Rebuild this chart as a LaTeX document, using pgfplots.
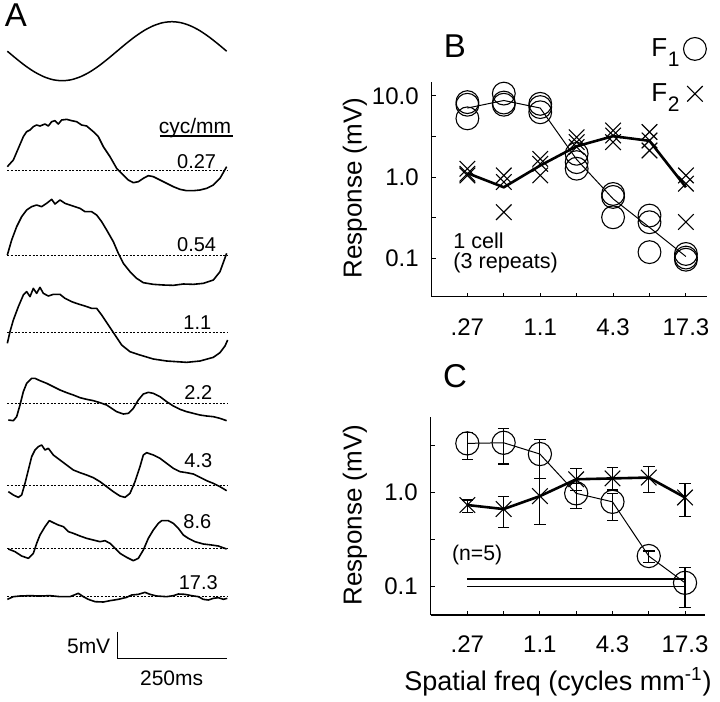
\documentclass[border=0pt]{standalone}
\usepackage{pgfplots}
\pgfplotsset{compat=1.18}
\usepackage{fontspec}
\setmainfont{Liberation Sans}
\setsansfont{Liberation Sans}
\newcommand{\fs}[1]{\fontsize{#1}{#1}\selectfont}
\begin{document}
\begin{tikzpicture}
\useasboundingbox (0pt,0pt) rectangle (360pt,-351pt);
% ---------------- Panel A ----------------
\begin{axis}[at={(0pt,0pt)}, anchor=north west, scale only axis,
  width=125pt, height=351pt, xmin=0, xmax=750, ymin=0, ymax=2106,
  y dir=reverse, hide axis, clip=false]
% stimulus
\addplot[line width=0.75pt, smooth] coordinates {(22,153.6)(49.4,176.5)(76.8,197.9)(104.3,216.2)(131.7,230.2)(159.1,239.1)(186.5,242.1)(213.9,239.1)(241.3,230.2)(268.8,216.2)(296.2,197.9)(323.6,176.5)(351,153.6)(378.4,130.7)(405.8,109.4)(433.3,91.0)(460.7,77.0)(488.1,68.1)(515.5,65.1)(542.9,68.1)(570.3,77.0)(597.8,91.0)(625.2,109.4)(652.6,130.7)(680,153.6)};
% baselines
\addplot[line width=0.4pt, dash pattern=on 1pt off 0.8pt] coordinates {(22,512)(682,512)};
\addplot[line width=0.4pt, dash pattern=on 1pt off 0.8pt] coordinates {(22,765)(682,765)};
\addplot[line width=0.4pt, dash pattern=on 1pt off 0.8pt] coordinates {(22,997)(682,997)};
\addplot[line width=0.4pt, dash pattern=on 1pt off 0.8pt] coordinates {(22,1210)(682,1210)};
\addplot[line width=0.4pt, dash pattern=on 1pt off 0.8pt] coordinates {(22,1455)(682,1455)};
\addplot[line width=0.4pt, dash pattern=on 1pt off 0.8pt] coordinates {(22,1645)(682,1645)};
\addplot[line width=0.4pt, dash pattern=on 1pt off 0.8pt] coordinates {(22,1790)(682,1790)};
% traces
\addplot[line width=0.8pt, line join=round] coordinates {(22,500)(40,480)(55,445)(70,410)(80,395)(90,390)(100,380)(110,375)(120,378)(135,372)(145,378)(155,365)(165,362)(175,372)(185,360)(200,358)(215,362)(230,365)(245,375)(260,378)(280,395)(295,410)(310,440)(330,470)(350,505)(370,525)(385,540)(400,548)(415,545)(430,535)(445,527)(460,530)(480,540)(500,550)(520,560)(540,568)(560,572)(580,572)(600,570)(620,565)(640,555)(660,535)(680,500)};
\addplot[line width=0.8pt, line join=round] coordinates {(22,765)(35,720)(50,680)(65,650)(80,630)(95,620)(110,615)(125,620)(140,610)(155,598)(165,612)(180,600)(195,610)(210,615)(225,620)(240,625)(255,635)(275,635)(290,645)(305,665)(320,690)(340,725)(355,760)(370,790)(390,815)(410,835)(430,848)(460,853)(490,855)(520,856)(550,852)(580,853)(610,850)(640,840)(660,815)(680,760)};
\addplot[line width=0.8pt, line join=round] coordinates {(22,1030)(30,995)(40,960)(55,920)(70,885)(80,875)(90,890)(100,865)(110,880)(120,862)(130,880)(145,888)(160,883)(180,883)(195,895)(215,905)(235,912)(255,918)(275,925)(290,925)(305,945)(325,975)(345,1005)(365,1035)(390,1055)(420,1065)(460,1077)(500,1083)(560,1087)(600,1083)(640,1072)(660,1058)(675,1038)(683,1020)};
\addplot[line width=0.8pt, line join=round] coordinates {(25,1260)(40,1262)(50,1250)(60,1215)(70,1175)(80,1150)(95,1135)(105,1135)(120,1142)(140,1150)(160,1160)(180,1170)(200,1178)(220,1185)(240,1193)(260,1198)(280,1202)(300,1208)(320,1215)(335,1225)(350,1235)(370,1242)(385,1240)(400,1225)(415,1200)(430,1182)(445,1177)(460,1180)(480,1190)(500,1205)(520,1218)(540,1228)(560,1235)(580,1240)(600,1245)(620,1248)(640,1250)(660,1255)(680,1262)};
\addplot[line width=0.8pt, line join=round] coordinates {(25,1475)(40,1485)(55,1492)(65,1485)(75,1450)(85,1410)(95,1370)(105,1350)(115,1340)(125,1335)(135,1350)(145,1345)(160,1365)(180,1380)(200,1395)(220,1410)(240,1418)(260,1425)(280,1433)(300,1445)(320,1460)(340,1475)(360,1488)(375,1492)(390,1480)(405,1445)(420,1400)(430,1365)(440,1358)(460,1365)(480,1375)(500,1390)(520,1405)(540,1415)(560,1418)(580,1422)(600,1432)(620,1442)(640,1450)(660,1460)(680,1472)};
\addplot[line width=0.8pt, line join=round] coordinates {(25,1647)(45,1655)(65,1668)(85,1675)(100,1660)(110,1630)(120,1605)(135,1580)(148,1562)(160,1568)(175,1575)(190,1580)(205,1595)(220,1600)(240,1608)(260,1615)(280,1620)(300,1625)(315,1622)(330,1630)(345,1645)(360,1660)(380,1672)(400,1682)(415,1675)(430,1650)(445,1615)(460,1590)(475,1570)(485,1562)(505,1562)(520,1570)(535,1585)(550,1605)(565,1615)(585,1625)(610,1632)(635,1635)(655,1638)(680,1647)};
\addplot[line width=0.8pt, line join=round] coordinates {(22,1798)(40,1790)(60,1788)(90,1787)(120,1788)(150,1787)(180,1790)(210,1790)(235,1780)(250,1790)(265,1798)(285,1805)(310,1806)(330,1802)(355,1798)(380,1792)(395,1785)(415,1783)(435,1777)(450,1783)(470,1788)(500,1790)(520,1787)(535,1782)(555,1783)(575,1787)(595,1790)(610,1798)(625,1800)(640,1795)(655,1793)(670,1798)(682,1795)};
% cyc/mm underline and scale bar
\addplot[line width=0.6pt] coordinates {(480,408)(700,408)};
\addplot[line width=0.6pt] coordinates {(352,1895)(352,1975)(680,1975)};
% labels
\node[font=\fs{10.5}] at (axis cs:585,383) {cyc/mm};
\node[font=\fs{10}] at (axis cs:590,485) {0.27};
\node[font=\fs{10}] at (axis cs:590,735) {0.54};
\node[font=\fs{10}] at (axis cs:592,968) {1.1};
\node[font=\fs{10}] at (axis cs:595,1177) {2.2};
\node[font=\fs{10}] at (axis cs:595,1383) {4.3};
\node[font=\fs{10}] at (axis cs:592,1565) {8.6};
\node[font=\fs{10}] at (axis cs:595,1748) {17.3};
\node[font=\fs{10.5}, anchor=east, inner sep=0pt] at (axis cs:332,1940) {5mV};
\node[font=\fs{10.5}] at (axis cs:515,2035) {250ms};
\end{axis}
% ---------------- Panel B ----------------
\begin{axis}[at={(215.85pt,-148.35pt)}, anchor=south west, scale only axis, clip=false,
  width=137.5pt, height=107.5pt, xmin=-0.98, xmax=6.57,
  ymode=log, ymin=0.0336, ymax=15,
  axis x line*=bottom, axis y line*=left,
  axis line style={-, line width=0.6pt},
  tick align=inside, major tick length=2pt, minor tick length=2pt,
  tick style={line width=0.5pt, black},
  xtick={0,1,2,3,4,5,6}, xticklabels={.27,,1.1,,4.3,,17.3},
  ytick={0.1,1,10}, yticklabels={0.1,1.0,10.0}, minor ytick={0.3162,3.162},
  ticklabel style={font=\fs{12}},
  xticklabel style={yshift=-7.5pt},
  yticklabel style={xshift=-3pt},
  legend plot pos=right,
  legend style={at={(0.761,1.24)}, anchor=north west, draw=none, fill=none,
    font=\fs{13}, row sep=8pt, legend cell align=left}]
\addplot[forget plot, line width=0.5pt] coordinates {(0,7.1)(1,8.8)(2,7.1)(3,1.65)(4,0.54)(5,0.24)(6,0.105)};
\addplot[forget plot, line width=1.3pt] coordinates {(0,1.12)(1,0.75)(2,1.39)(3,2.4)(4,3.2)(5,2.8)(6,0.75)};
\addplot[forget plot, only marks, mark=o, mark size=5.7pt, mark options={line width=0.55pt}] coordinates {
(0,8.4)(0,7.8)(0,5.3)
(1,10.7)(1,8.3)(1,7.8)
(2,8.0)(2,7.3)(2,6.3)
(3,1.94)(3,1.53)(3,1.27)
(4,0.62)(4,0.57)(4,0.32)
(5,0.336)(5,0.278)(5,0.119)
(6,0.113)(6,0.102)(6,0.096)};
\addplot[forget plot, only marks, mark=x, mark size=5.5pt, mark options={line width=0.55pt}] coordinates {
(0,1.27)(0,1.1)(0,1.05)
(1,1.05)(1,0.87)(1,0.37)
(2,1.68)(2,1.46)(2,1.05)
(3,3.1)(3,2.7)(3,2.35)
(4,3.76)(4,3.26)(4,2.7)
(5,3.6)(5,2.83)(5,2.13)
(6,1.05)(6,0.83)(6,0.28)};
\addlegendimage{only marks, mark=o, mark size=5.7pt, mark options={line width=0.55pt}}
\addlegendentry{F\kern0.3pt\raisebox{-5pt}{\fs{10.5}1}}
\addlegendimage{only marks, mark=x, mark size=5.5pt, mark options={line width=0.55pt}}
\addlegendentry{F\kern0.3pt\raisebox{-5pt}{\fs{10.5}2}}
\end{axis}
% ---------------- Panel C ----------------
\begin{axis}[at={(215.35pt,-307.5pt)}, anchor=south west, scale only axis, clip=false,
  width=137.15pt, height=99.15pt, xmin=-1.01, xmax=6.55,
  ymode=log, ymin=0.05, ymax=6.44,
  axis x line*=bottom, axis y line*=left,
  axis line style={-, line width=0.6pt},
  tick align=inside, major tick length=2pt, minor tick length=2pt,
  tick style={line width=0.5pt, black},
  xtick={0,1,2,3,4,5,6}, xticklabels={.27,,1.1,,4.3,,17.3},
  ytick={0.1,1}, yticklabels={0.1,1.0}, minor ytick={0.3162,3.162},
  ticklabel style={font=\fs{12}},
  xticklabel style={yshift=-7pt},
  yticklabel style={xshift=-3pt}]
\addplot[line width=1.3pt] coordinates {(0,0.121)(6,0.121)};
\addplot[line width=0.5pt] coordinates {(0,0.1016)(6,0.1016)};
\addplot[line width=0.5pt, mark=o, mark size=5.8pt, mark options={line width=0.55pt},
  error bars/.cd, y dir=both, y explicit,
  error bar style={line width=0.55pt},
  error mark options={rotate=90, mark size=2.9pt, line width=0.55pt}]
  table[x=x, y=y, y error plus=ep, y error minus=em] {
x y ep em
0 3.35 1.00 1.08
1 3.40 1.44 1.38
2 2.58 1.12 1.16
3 0.985 0.265 0.305
4 0.80 0.185 0.29
5 0.212 0.028 0.032
6 0.110 0.05 0.05
};
\addplot[line width=1.3pt, mark=x, mark size=5.5pt, mark options={line width=0.55pt},
  error bars/.cd, y dir=both, y explicit,
  error bar style={line width=0.55pt},
  error mark options={rotate=90, mark size=2.9pt, line width=0.55pt}]
  table[x=x, y=y, y error plus=ep, y error minus=em] {
x y ep em
0 0.74 0.096 0.13
1 0.67 0.236 0.24
2 0.92 0.50 0.46
3 1.39 0.41 0.33
4 1.42 0.44 0.35
5 1.45 0.44 0.45
6 0.89 0.37 0.33
};
\end{axis}
% ---------------- texts ----------------
\node[font=\fs{16.5}] at (8pt,-7.5pt) {A};
\node[font=\fs{16.5}] at (227.5pt,-23pt) {B};
\node[font=\fs{16.5}] at (227.5pt,-188pt) {C};
\node[rotate=90, font=\fs{13}] at (177.5pt,-94pt) {Response (mV)};
\node[rotate=90, font=\fs{13}] at (177.5pt,-257.5pt) {Response (mV)};
\node[font=\fs{13.5}] at (279pt,-340.85pt) {Spatial freq (cycles mm\textsuperscript{-1})};
\node[font=\fs{10.8}, anchor=west, align=left, inner sep=0pt] at (226.5pt,-126.5pt) {1 cell\\[-0.5pt](3 repeats)};
\node[font=\fs{10.6}, anchor=west, inner sep=0pt] at (225.85pt,-277.5pt) {(n=5)};
\end{tikzpicture}
\end{document}
